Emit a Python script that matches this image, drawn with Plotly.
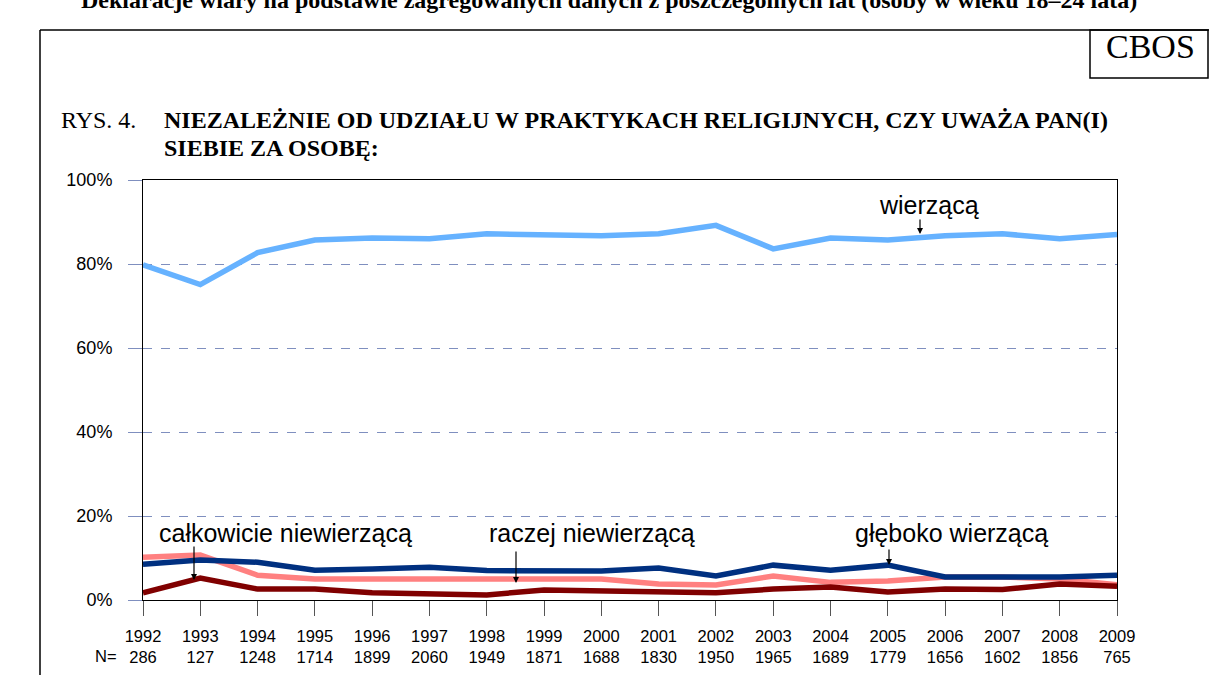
import plotly.graph_objects as go

years = list(range(1992, 2010))
n_counts = [286, 127, 1248, 1714, 1899, 2060, 1949, 1871, 1688, 1830,
            1950, 1965, 1689, 1779, 1656, 1602, 1856, 765]

wierzaca = [79.8, 75.1, 82.7, 85.7, 86.2, 86.0, 87.2, 86.9, 86.7, 87.2,
            89.2, 83.6, 86.2, 85.7, 86.7, 87.2, 86.0, 87.0]
gleboko = [8.5, 9.5, 9.0, 7.1, 7.4, 7.8, 7.0, 6.9, 6.9, 7.6,
           5.7, 8.3, 7.1, 8.3, 5.5, 5.5, 5.5, 5.9]
raczej_nie = [10.2, 10.7, 5.9, 5.0, 5.0, 5.0, 5.0, 4.8, 5.0, 3.8,
              3.6, 5.7, 4.2, 4.5, 5.5, 5.5, 5.0, 3.6]
calkowicie_nie = [1.7, 5.2, 2.6, 2.6, 1.7, 1.3, 1.2, 2.4, 2.2, 1.7,
                  1.7, 2.6, 3.1, 1.9, 2.6, 2.5, 3.8, 3.3]

y_ticks = [0, 20, 40, 60, 80, 100]
y_tick_labels = ["0%", "20%", "40%", "60%", "80%", "100%"]

W, H = 1209, 675
L, R, T, B = 143, 1117, 180, 600


def px(xp):
    return (xp - L) / (R - L)


def py(yp):
    return (B - yp) / (B - T)


fig = go.Figure()
series = [
    ("wierzącą", wierzaca, "#66b2ff"),
    ("raczej niewierzącą", raczej_nie, "#ff8080"),
    ("całkowicie niewierzącą", calkowicie_nie, "#800000"),
    ("głęboko wierzącą", gleboko, "#003080"),
]
for name, vals, col in series:
    fig.add_trace(go.Scatter(x=years, y=vals, mode="lines", name=name,
                             line=dict(color=col, width=5.5), cliponaxis=False))

grid_col = "#7f8fbf"
fig.update_layout(
    width=W, height=H,
    margin=dict(l=L, r=W - R, t=T, b=H - B, pad=0, autoexpand=False),
    paper_bgcolor="white", plot_bgcolor="white",
    showlegend=False,
    font=dict(family="Liberation Sans, Arial", size=16, color="black"),
    xaxis=dict(range=[1992, 2009], tickvals=years,
               ticktext=[f"{y}<br>{n}" for y, n in zip(years, n_counts)],
               ticks="outside", ticklen=15, tickcolor="#555555", tickwidth=1,
               showgrid=False, zeroline=False, showline=True,
               linecolor="black", linewidth=1, mirror=True, automargin=False,
               tickfont=dict(size=16.5), ticklabelstandoff=6),
    yaxis=dict(range=[0, 100], tickvals=y_ticks, ticktext=y_tick_labels,
               ticks="outside", ticklen=14, tickcolor=grid_col, tickwidth=1,
               showgrid=True, gridcolor=grid_col, griddash="dash", gridwidth=1,
               zeroline=False, showline=True, linecolor="black", linewidth=1,
               mirror=True, automargin=False,
               tickfont=dict(size=18), ticklabelstandoff=12),
)

shapes = []
# outer frame
shapes.append(dict(type="line", xref="paper", yref="paper",
                   x0=px(40), y0=py(676), x1=px(40), y1=py(30),
                   line=dict(color="black", width=1.5)))
shapes.append(dict(type="line", xref="paper", yref="paper",
                   x0=px(40), y0=py(30), x1=px(1210), y1=py(30),
                   line=dict(color="black", width=1.5)))
# CBOS box
shapes.append(dict(type="rect", xref="paper", yref="paper",
                   x0=px(1090), y0=py(78), x1=px(1208), y1=py(30),
                   line=dict(color="black", width=1.5)))
fig.update_layout(shapes=shapes)

serif = "Liberation Serif, Times New Roman"
ann = []
ann.append(dict(text="<b>Deklaracje wiary na podstawie zagregowanych danych z poszczególnych lat (osoby w wieku 18–24 lata)</b>",
                xref="paper", yref="paper", x=px(609), y=py(-0.5), showarrow=False,
                xanchor="center", yanchor="middle",
                font=dict(family=serif, size=24)))
ann.append(dict(text="CBOS", xref="paper", yref="paper", x=px(1150), y=py(46),
                showarrow=False, xanchor="center", yanchor="middle",
                font=dict(family=serif, size=34)))
ann.append(dict(text="RYS. 4.", xref="paper", yref="paper", x=px(59), y=py(120),
                showarrow=False, xanchor="left", yanchor="middle",
                font=dict(family=serif, size=24)))
ann.append(dict(text="<b>NIEZALEŻNIE OD UDZIAŁU W PRAKTYKACH RELIGIJNYCH, CZY UWAŻA PAN(I)</b>",
                xref="paper", yref="paper", x=px(162), y=py(120),
                showarrow=False, xanchor="left", yanchor="middle",
                font=dict(family=serif, size=24)))
ann.append(dict(text="<b>SIEBIE ZA OSOBĘ:</b>",
                xref="paper", yref="paper", x=px(162), y=py(148),
                showarrow=False, xanchor="left", yanchor="middle",
                font=dict(family=serif, size=24)))
ann.append(dict(text="N=", xref="paper", yref="paper", x=px(119), y=py(656),
                showarrow=False, xanchor="right", yanchor="middle",
                font=dict(size=16.5)))

labels = [
    ("wierzącą", 929, 205, 920, 218, 234),
    ("całkowicie niewierzącą", 285, 533, 194, 545, 580),
    ("raczej niewierzącą", 592, 533, 516, 550, 583),
    ("głęboko wierzącą", 951, 533, 889, 548, 565),
]
for txt, tx, ty, ax_, ay0, ay1 in labels:
    ann.append(dict(text=txt, xref="paper", yref="paper", x=px(tx), y=py(ty),
                    showarrow=False, xanchor="center", yanchor="middle",
                    font=dict(size=25)))
    ann.append(dict(text="", xref="paper", yref="paper",
                    x=px(ax_), y=py(ay1), ax=0, ay=-(ay1 - ay0),
                    axref="pixel", ayref="pixel", showarrow=True,
                    arrowhead=2, arrowsize=1, arrowwidth=1.2, arrowcolor="black",
                    standoff=0, startstandoff=0))
fig.update_layout(annotations=ann)

fig.write_html("out.html", config={"displayModeBar": False},
               post_script="document.body.style.margin='0px';document.body.style.overflow='hidden';")
